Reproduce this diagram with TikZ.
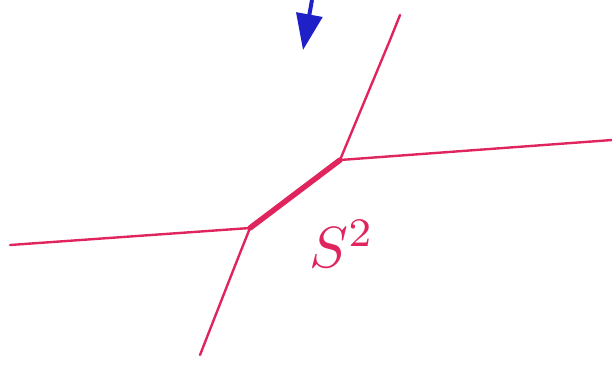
\documentclass[tikz,border=0pt]{standalone}
\usepackage{tikz}
\usetikzlibrary{arrows.meta}
\definecolor{penred}{HTML}{E0245E}
\definecolor{penblue}{HTML}{2020C8}

\begin{document}
\begin{tikzpicture}[x=1pt, y=-1pt,
  leg/.style={penred, line width=2.4pt, line cap=round},
  bridge/.style={penred, line width=5.5pt, line cap=round},
  arr/.style={penblue, line width=4pt, -{Triangle[length=36pt, width=26pt]}},
  lbl/.style={penred, transform shape, scale=5.8},
]
  \useasboundingbox (0,0) rectangle (612,370);

  % junctions and free ends
  \coordinate (jl) at (250,228);
  \coordinate (jr) at (340,160);
  \coordinate (wl) at (10,245);
  \coordinate (er) at (612,140);
  \coordinate (nt) at (400,15);
  \coordinate (sb) at (200,355);
  \coordinate (at) at (312,0);
  \coordinate (ab) at (303,50);

  \draw[bridge] (jl) -- (jr);
  \draw[leg] (wl) -- (jl);
  \draw[leg] (jr) -- (er);
  \draw[leg] (jr) -- (390,40) -- (nt);
  \draw[leg] (jl) .. controls (238,258) .. (sb);

  % label
  \node[lbl] (s2) at (342,244) {$S^2$};

  % arrow
  \draw[arr] (at) -- (ab);
\end{tikzpicture}
\end{document}
